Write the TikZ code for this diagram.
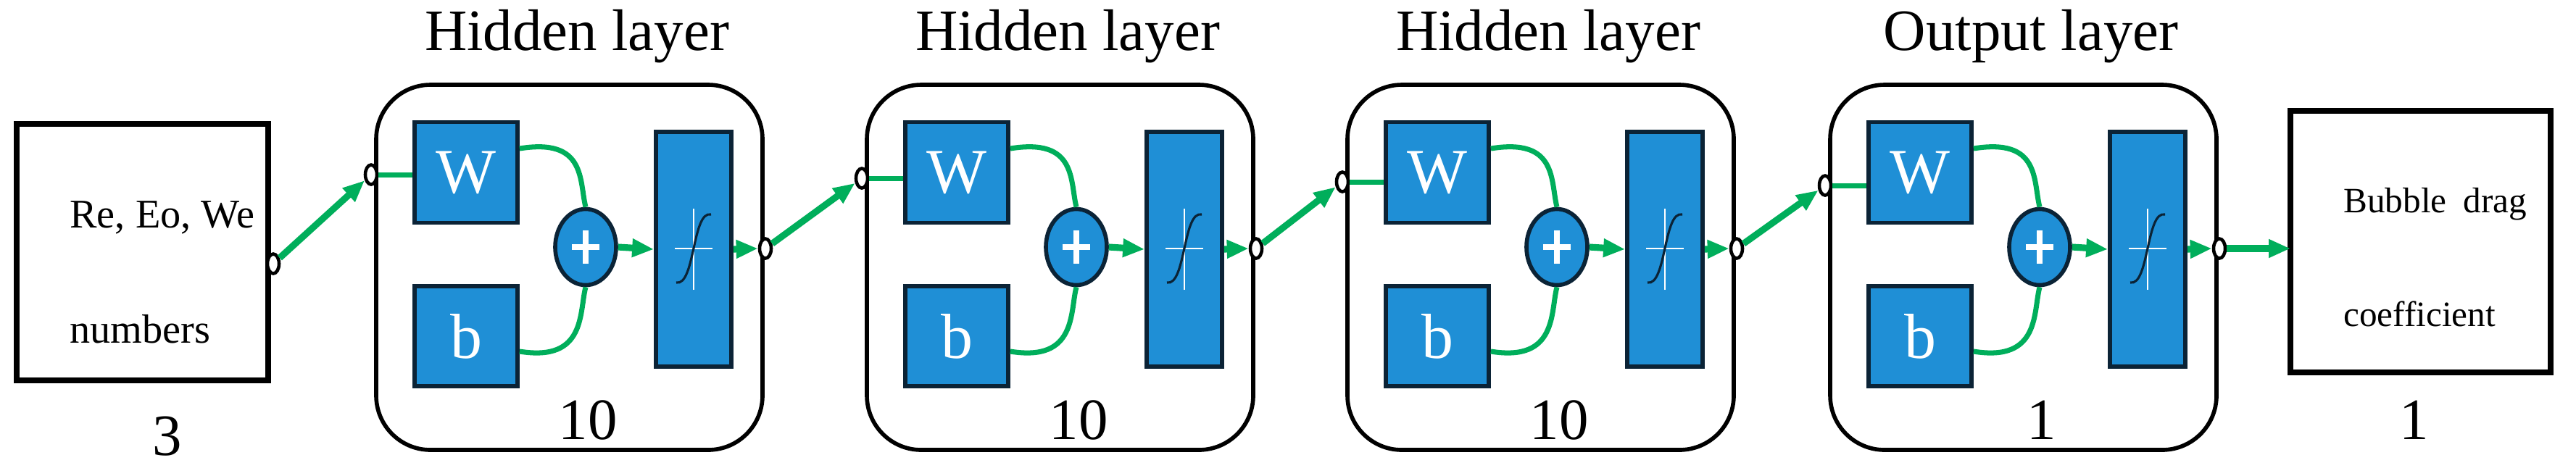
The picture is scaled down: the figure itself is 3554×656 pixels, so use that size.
\documentclass[tikz,border=0pt]{standalone}
\usepackage{fontspec}
\setmainfont{Liberation Serif}
\usetikzlibrary{arrows.meta,shapes.geometric}
\definecolor{nnblue}{HTML}{1F8FD6}
\definecolor{nnedge}{HTML}{0B2336}
\definecolor{nngreen}{HTML}{00AE5B}
\begin{document}
\begin{tikzpicture}[x=0.01cm,y=-0.01cm,
  layer/.style={draw=black,line width=1.6pt,rounded corners=0.75cm},
  blk/.style={fill=nnblue,draw=nnedge,line width=1.6pt},
  io/.style={draw=black,line width=2.4pt,fill=white},
  port/.style={ellipse,draw=black,fill=white,line width=1.3pt,minimum width=0.16cm,minimum height=0.27cm,inner sep=0pt},
  gl/.style={draw=nngreen,line width=2pt},
  ga/.style={draw=nngreen,line width=2.6pt,-{Triangle[length=0.3cm,width=0.24cm]}},
  title/.style={font=\fontsize{23}{26}\selectfont},
  num/.style={font=\fontsize{23}{26}\selectfont},
  wt/.style={text=white,font=\fontsize{25}{28}\selectfont}]
\useasboundingbox (0,0) rectangle (3554,656);
% input box
\draw[io] (23,171) rectangle (370,525);
\node[anchor=base west,font=\fontsize{16}{18}\selectfont] (intxt1) at (84,314) {Re, Eo, We};
\node[anchor=base west,font=\fontsize{16}{18}\selectfont] (intxt2) at (84,473) {numbers};
\node[num] (n0) at (231,602) {3};
\node[port] (p0) at (377,364) {};
% layers
\foreach \i/\ox/\t/\n in {1/519/Hidden layer/10,2/1196/Hidden layer/10,3/1859/Hidden layer/10,4/2525/Output layer/1}{
  \begin{scope}[shift={(\ox,0)}]
    \draw[layer] (0,117) rectangle (533,621);
    \node[title] (t\i) at (277,50) {\t};
    \node[num] (n\i) at (292,580) {\n};
    \node[blk,minimum width=1.42cm,minimum height=1.39cm,inner sep=0pt] (w\i) at (124,238) {};
    \node[wt] at (w\i) {W};
    \node[blk,minimum width=1.42cm,minimum height=1.38cm,inner sep=0pt] (b\i) at (124,464) {};
    \node[wt] at (b\i) {b};
    \node[ellipse,blk,minimum width=0.84cm,minimum height=1.05cm,inner sep=0pt] (s\i) at (289,341) {};
    \draw[white,line width=2.4pt] (289,318) -- (289,364) (270,341) -- (308,341);
    \node[blk,minimum width=1.04cm,minimum height=3.24cm,inner sep=0pt] (f\i) at (438,344) {};
    \draw[white,line width=0.6pt] (438,288) -- (438,400) (412,343) -- (464,343);
    \draw[nnedge,line width=0.9pt] (414,390) .. controls (440,395) and (436,290) .. (462,296);
    \node[port] (a\i) at (-7,241+\i*5-5) {};
    \node[port] (o\i) at (537,343) {};
    \draw[gl] (a\i) -- (w\i.west |- a\i);
    \draw[gl] (w\i.east |- 0,205) .. controls (290,190) and (280,250) .. (s\i.north);
    \draw[gl] (b\i.east |- 0,485) .. controls (290,500) and (280,430) .. (s\i.south);
    \draw[ga] (s\i.east) -- (f\i.west);
    \draw[ga] (f\i.east) -- (o\i.west);
  \end{scope}}
\draw[ga] (p0) -- (a1);
\draw[ga] (o1) -- (a2);
\draw[ga] (o2) -- (a3);
\draw[ga] (o3) -- (a4);
% output box
\draw[io] (3160,153) rectangle (3519,514);
\coordinate (outin) at (3160,343);
\draw[ga] (o4) -- (outin);
\node[anchor=base west,font=\fontsize{14}{16}\selectfont] (ot1) at (3221,293) {Bubble};
\node[anchor=base west,font=\fontsize{14}{16}\selectfont] (ot2) at (3386,293) {drag};
\node[anchor=base west,font=\fontsize{14}{16}\selectfont] (ot3) at (3221,450) {coefficient};
\node[num] (n5) at (3331,580) {1};
\end{tikzpicture}
\end{document}
